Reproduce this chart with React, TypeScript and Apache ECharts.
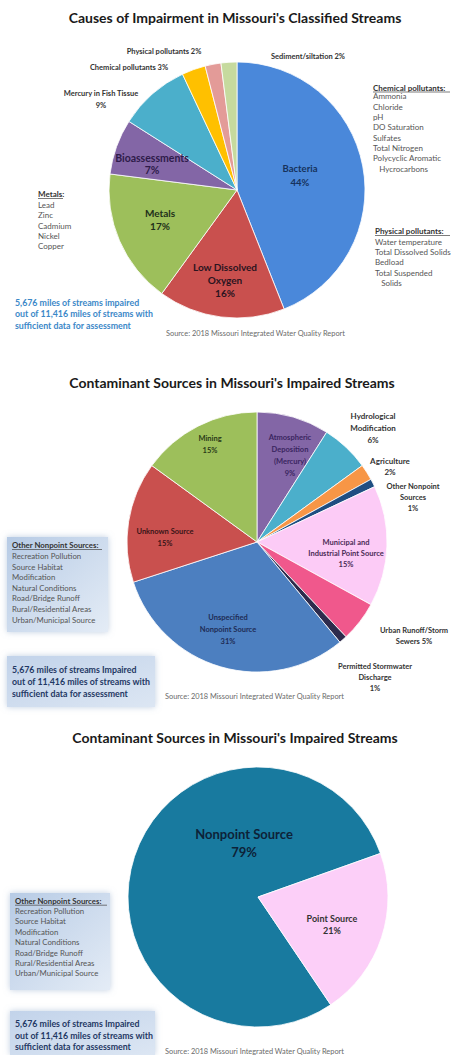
import React, { useEffect, useRef } from "react";
import * as echarts from "echarts";

// ---------------- data ----------------
const causeNames = [
  "Bacteria",
  "Low Dissolved\nOxygen",
  "Metals",
  "Bioassessments",
  "Mercury in Fish Tissue",
  "Chemical pollutants",
  "Physical pollutants",
  "Sediment/siltation",
];
const causePercents = [44, 16, 17, 7, 9, 3, 2, 2];

const sourceNames = [
  "Atmospheric\nDeposition\n(Mercury)",
  "Hydrological\nModification",
  "Agriculture",
  "Other Nonpoint\nSources",
  "Municipal and\nIndustrial Point Source",
  "Urban Runoff/Storm\nSewers",
  "Permitted Stormwater\nDischarge",
  "Unspecified\nNonpoint Source",
  "Unknown Source",
  "Mining",
];
const sourcePercents = [9, 6, 2, 1, 15, 5, 1, 31, 15, 15];

const typeNames = ["Nonpoint Source", "Point Source"];
const typePercents = [79, 21];

const chemicalPollutants = [
  "Ammonia",
  "Chloride",
  "pH",
  "DO Saturation",
  "Sulfates",
  "Total Nitrogen",
  "Polycyclic Aromatic",
  "   Hycrocarbons",
];
const physicalPollutants = [
  "Water temperature",
  "Total Dissolved Solids",
  "Bedload",
  "Total Suspended",
  "   Solids",
];
const metalsList = ["Lead", "Zinc", "Cadmium", "Nickel", "Copper"];
const otherNonpointList = [
  "Recreation Pollution",
  "Source Habitat",
  "Modification",
  "Natural Conditions",
  "Road/Bridge Runoff",
  "Rural/Residential Areas",
  "Urban/Municipal Source",
];
const milesNote1 = [
  "5,676 miles of streams impaired",
  "out of 11,416 miles of streams with",
  "sufficient data for assessment",
];
const milesNote2 = [
  "5,676 miles of streams Impaired",
  "out of 11,416 miles of streams with",
  "sufficient data for assessment",
];
const title1 = "Causes of Impairment in Missouri's Classified Streams";
const title2 = "Contaminant Sources in Missouri's Impaired Streams";
const sourceText = "Source: 2018 Missouri Integrated Water Quality Report";

// ---------------- styles / layout ----------------
const FONT = "Lato, 'DejaVu Sans', sans-serif";

const causeColors = ["#4A88DA", "#C9504E", "#9DBF5B", "#8366A6", "#4BAFCB", "#FFC000", "#E39B98", "#C6DA9E"];
const sourceColors = ["#8366A6", "#4BAFCB", "#F79646", "#1F4E82", "#FCCBF6", "#F0588C", "#2E2B4C", "#4C7FC0", "#C9504E", "#9DBF5B"];
const typeColors = ["#187A9F", "#FCCFF8"];

const causeSeps = ["\n", "\n", "\n", "\n", "\n", " ", " ", " "];
const sourceSeps = ["\n", "\n", "\n", "\n", "\n", " ", "\n", "\n", "\n", "\n"];
const typeSeps = ["\n", "\n"];

// label centers relative to pie centre
const causeLabelOffsets = [[63, -15], [-12, 90], [-77, 29], [-85, -26], [-136, -91], [-108, -123], [-73, -139], [71, -134]];
const sourceLabelOffsets = [[33, -87], [116, -114], [133, -76], [156, -45], [89, 11], [157, 94], [118, 135], [-29, 87], [-92, -5], [-47, -98]];
const typeLabelOffsets = [[-14, -54], [74, 27]];

const causeLabelStyles = [
  { fontSize: 9.5, color: "#16325C", lineHeight: 14 },
  { fontSize: 10, color: "#2B1420", lineHeight: 13 },
  { fontSize: 10, color: "#22301A", lineHeight: 13 },
  { fontSize: 10.5, color: "#2E1B4A", lineHeight: 12 },
  { fontSize: 7.5, color: "#333333", lineHeight: 12 },
  { fontSize: 7.5, color: "#333333", lineHeight: 12 },
  { fontSize: 7.5, color: "#333333", lineHeight: 12 },
  { fontSize: 7.5, color: "#333333", lineHeight: 12 },
];
const sourceLabelStyles = [
  { fontSize: 7.5, color: "#3A2560", lineHeight: 12 },
  { fontSize: 8, color: "#333333", lineHeight: 12 },
  { fontSize: 8, color: "#333333", lineHeight: 11 },
  { fontSize: 7.5, color: "#333333", lineHeight: 11 },
  { fontSize: 7.5, color: "#4A2A55", lineHeight: 11 },
  { fontSize: 7.5, color: "#333333", lineHeight: 11 },
  { fontSize: 7.5, color: "#333333", lineHeight: 11 },
  { fontSize: 7.5, color: "#1E2C55", lineHeight: 12 },
  { fontSize: 7.5, color: "#3A1518", lineHeight: 12 },
  { fontSize: 7.5, color: "#2A3A18", lineHeight: 12 },
];
const typeLabelStyles = [
  { fontSize: 13, color: "#0D2238", lineHeight: 18 },
  { fontSize: 9, color: "#333333", lineHeight: 12 },
];

function pieSeries(
  names: string[],
  values: number[],
  colors: string[],
  seps: string[],
  offsets: number[][],
  styles: any[],
  center: number[],
  radius: number,
  startAngle: number
) {
  return {
    type: "pie",
    center,
    radius,
    startAngle,
    clockwise: true,
    silent: true,
    avoidLabelOverlap: false,
    itemStyle: { borderColor: "#ffffff", borderWidth: 0.8 },
    label: {
      show: true,
      position: "inside",
      fontFamily: FONT,
      fontWeight: "bold",
      align: "center",
      formatter: (p: any) => p.name + seps[p.dataIndex] + p.value + "%",
    },
    labelLine: { show: false },
    labelLayout: (p: any) => ({
      x: center[0] + offsets[p.dataIndex][0],
      y: center[1] + offsets[p.dataIndex][1],
      align: "center",
      verticalAlign: "middle",
    }),
    data: values.map((v, i) => ({
      name: names[i],
      value: v,
      itemStyle: { color: colors[i] },
      label: { ...styles[i] },
    })),
  };
}

function textEl(text: string, x: number, y: number, style: any) {
  return {
    type: "text",
    x,
    y,
    silent: true,
    style: { text, fontFamily: FONT, ...style },
  };
}

function listBlock(header: string, items: string[], x: number, yHeader: number, yFirst: number, lh: number, headerWidth: number, color: string, fs: number) {
  return [
    textEl(header, x, yHeader, { fontSize: fs, fontWeight: "bold", fill: "#333333", verticalAlign: "middle" }),
    {
      type: "line",
      silent: true,
      shape: { x1: x, y1: yHeader + 4.5, x2: x + headerWidth, y2: yHeader + 4.5 },
      style: { stroke: "#444444", lineWidth: 0.7 },
    },
    textEl(items.join("\n"), x, yFirst - lh / 2, { fontSize: fs, fill: color, lineHeight: lh, verticalAlign: "top" }),
  ];
}

function boxEl(x: number, y: number, w: number, h: number, c1: string, c2: string) {
  return {
    type: "rect",
    silent: true,
    shape: { x, y, width: w, height: h },
    style: {
      fill: new echarts.graphic.LinearGradient(0, 0, 1, 1, [
        { offset: 0, color: c1 },
        { offset: 1, color: c2 },
      ]),
      shadowBlur: 6,
      shadowColor: "rgba(140,165,200,0.55)",
    },
  };
}

export default function App() {
  const ref = useRef<HTMLDivElement>(null);

  useEffect(() => {
    document.body.style.margin = "0";
    const chart = echarts.init(ref.current!, null, { renderer: "svg" });

    const titleStyle = { fontSize: 14, fontWeight: "bold", fill: "#1A1A1A", align: "center", verticalAlign: "middle" };
    const srcStyle = { fontSize: 7.4, fill: "#6A6A6A", verticalAlign: "middle" };
    const milesStyle = { fontSize: 8.8, fontWeight: "bold", verticalAlign: "top" };

    const graphics: any[] = [
      // chart 1
      textEl(title1, 235, 17, titleStyle),
      ...listBlock("Chemical pollutants:", chemicalPollutants, 373, 87.5, 96.5, 10.3, 77, "#555555", 8),
      ...listBlock("Physical pollutants:", physicalPollutants, 375, 231, 241.7, 10.3, 75, "#555555", 8),
      ...listBlock("Metals:", metalsList, 38, 194, 204.7, 10.4, 25, "#555555", 8),
      textEl(milesNote1.join("\n"), 15, 297, { ...milesStyle, fill: "#3B88C8", lineHeight: 11.3 }),
      textEl(sourceText, 166, 333, srcStyle),

      // chart 2
      textEl(title2, 232, 382, titleStyle),
      boxEl(7, 537, 101, 95, "#B7CBE5", "#E4ECF6"),
      ...listBlock("Other Nonpoint Sources:", otherNonpointList, 12, 545, 556, 10.6, 90, "#555555", 7.8),
      boxEl(7, 656, 148, 51, "#C2D3EA", "#DCE6F3"),
      textEl(milesNote2.join("\n"), 12, 663, { ...milesStyle, fill: "#1F3864", lineHeight: 12 }),
      textEl(sourceText, 165, 696, srcStyle),

      // chart 3
      textEl(title2, 235, 737, titleStyle),
      boxEl(10, 893, 100, 97, "#B7CBE5", "#E4ECF6"),
      ...listBlock("Other Nonpoint Sources:", otherNonpointList, 15, 900.7, 911, 10.4, 92, "#555555", 7.8),
      boxEl(10, 1011, 145, 44, "#C2D3EA", "#DCE6F3"),
      textEl(milesNote2.join("\n"), 15, 1018, { ...milesStyle, fill: "#1F3864", lineHeight: 11.5 }),
      textEl(sourceText, 165, 1051, srcStyle),
    ];

    chart.setOption({
      animation: false,
      backgroundColor: "#ffffff",
      graphic: graphics,
      series: [
        pieSeries(causeNames, causePercents, causeColors, causeSeps, causeLabelOffsets, causeLabelStyles, [237, 190], 128, 90),
        pieSeries(sourceNames, sourcePercents, sourceColors, sourceSeps, sourceLabelOffsets, sourceLabelStyles, [257, 542], 130, 90),
        pieSeries(typeNames, typePercents, typeColors, typeSeps, typeLabelOffsets, typeLabelStyles, [258, 897], 130, 304),
      ],
    });

    return () => chart.dispose();
  }, []);

  return <div ref={ref} style={{ width: 451, height: 1055, position: "absolute", left: 0, top: 0 }} />;
}
